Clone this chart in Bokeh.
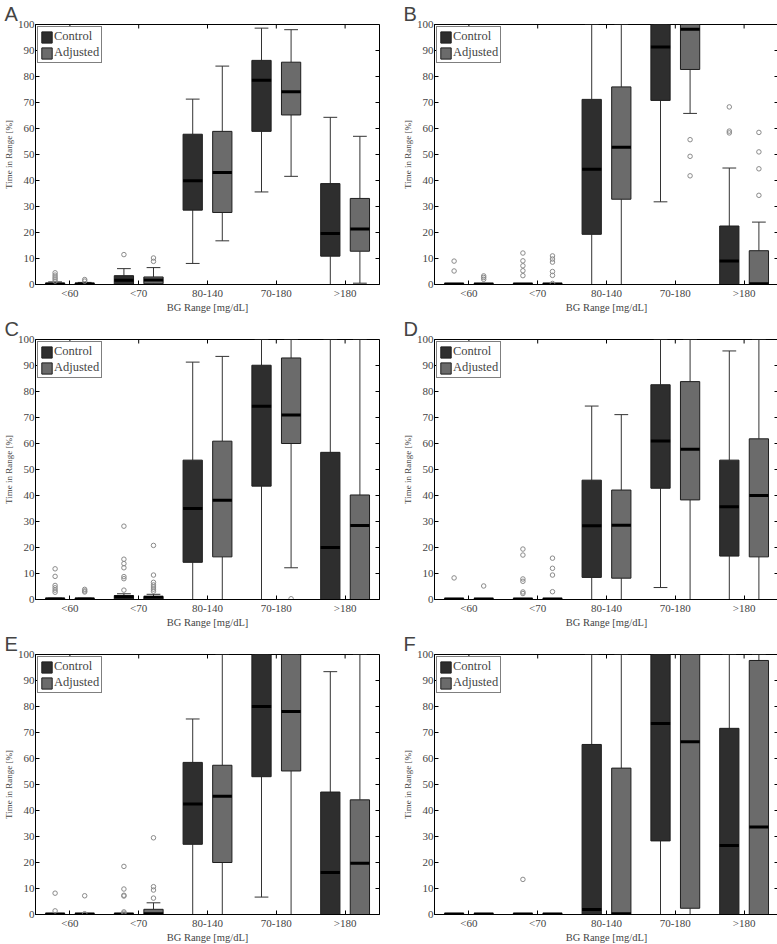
import math
from bokeh.plotting import figure
from bokeh.layouts import gridplot
from bokeh.models import (ColumnDataSource, FactorRange, Range1d, Legend, LegendItem, FixedTicker)
from bokeh.transform import dodge
from bokeh.embed import file_html
from bokeh.resources import INLINE

# ---------------- data ----------------
CATS = ["<60", "<70", "80-140", "70-180", ">180"]
GROUPS = ["Control", "Adjusted"]
Y_TICKS = [0, 10, 20, 30, 40, 50, 60, 70, 80, 90, 100]
X_LABEL = "BG Range [mg/dL]"
Y_LABEL = "Time in Range [%]"

# Panel A
A_ctrl_low = [0, 0, 8.1, 35.6, 0]
A_ctrl_q1 = [0, 0, 28.6, 58.9, 10.9]
A_ctrl_med = [0.2, 1.6, 39.9, 78.6, 19.6]
A_ctrl_q3 = [0.5, 3.4, 57.8, 86.2, 38.8]
A_ctrl_high = [1.0, 6.1, 71.3, 98.6, 64.3]
A_ctrl_out = [[1.3, 2.1, 2.8, 3.6, 4.5], [11.5], [], [], []]
A_adj_low = [0, 0, 16.8, 41.6, 0.5]
A_adj_q1 = [0, 0.3, 27.7, 65.2, 12.8]
A_adj_med = [0.2, 1.7, 43.1, 74.1, 21.3]
A_adj_q3 = [0.5, 2.9, 58.9, 85.5, 33.1]
A_adj_high = [0.8, 6.5, 84.0, 98.0, 57.0]
A_adj_out = [[1.3, 1.9], [8.9, 10.2], [], [], []]

# Panel B
B_ctrl_low = [0, 0, 0, 31.8, 0]
B_ctrl_q1 = [0, 0, 19.3, 70.8, 0]
B_ctrl_med = [0.2, 0.2, 44.3, 91.3, 9.0]
B_ctrl_q3 = [0.4, 0.4, 71.2, 100, 22.5]
B_ctrl_high = [0.4, 0.4, 100, 100, 44.8]
B_ctrl_out = [[5.2, 9.0], [3.4, 5.3, 7.2, 9.1, 12.1], [], [], [58.3, 59.0, 68.3]]
B_adj_low = [0, 0, 0, 65.8, 0]
B_adj_q1 = [0, 0, 32.8, 82.7, 0]
B_adj_med = [0.2, 0.2, 52.8, 98.2, 0.3]
B_adj_q3 = [0.4, 0.4, 76.0, 100, 13.0]
B_adj_high = [0.4, 0.4, 100, 100, 24.0]
B_adj_out = [[2.0, 2.7, 3.3], [0.4, 3.5, 5.0, 8.6, 9.8, 11.0], [], [41.8, 49.3, 55.7],
             [34.3, 44.5, 51.0, 58.5]]

# Panel C
C_ctrl_low = [0, 0, 0, 0, 0]
C_ctrl_q1 = [0, 0, 14.3, 43.6, 0]
C_ctrl_med = [0.2, 1.1, 35.0, 74.3, 20.0]
C_ctrl_q3 = [0.5, 1.5, 53.6, 90.1, 56.6]
C_ctrl_high = [0.5, 2.2, 91.3, 100, 100]
C_ctrl_out = [[2.8, 3.6, 4.5, 5.4, 8.9, 11.8], [3.6, 8.0, 8.8, 12.2, 13.8, 15.5, 28.2], [], [], []]
C_adj_low = [0, 0, 0, 12.2, 0]
C_adj_q1 = [0, 0, 16.4, 60.0, 0]
C_adj_med = [0.2, 0.9, 38.2, 71.0, 28.5]
C_adj_q3 = [0.5, 1.2, 60.9, 92.9, 40.2]
C_adj_high = [0.5, 2.0, 93.5, 100, 100]
C_adj_out = [[2.9, 3.3, 3.9], [3.2, 4.0, 4.8, 5.6, 6.6, 9.4, 20.8], [], [0.3], []]

# Panel D
D_ctrl_low = [0, 0, 0, 4.6, 0]
D_ctrl_q1 = [0, 0, 8.5, 42.8, 16.7]
D_ctrl_med = [0.2, 0.2, 28.4, 61.0, 35.7]
D_ctrl_q3 = [0.4, 0.4, 45.9, 82.6, 53.6]
D_ctrl_high = [0.4, 0.4, 74.4, 100, 95.6]
D_ctrl_out = [[8.3], [2.3, 2.9, 7.0, 7.9, 17.1, 19.4], [], [], []]
D_adj_low = [0, 0, 0, 0, 0]
D_adj_q1 = [0, 0, 8.2, 38.3, 16.4]
D_adj_med = [0.2, 0.2, 28.6, 57.8, 40.0]
D_adj_q3 = [0.4, 0.4, 42.1, 83.8, 61.8]
D_adj_high = [0.4, 0.4, 71.1, 100, 100]
D_adj_out = [[5.2], [3.0, 9.4, 12.0, 15.9], [], [], []]

# Panel E
E_ctrl_low = [0, 0, 0, 6.7, 0]
E_ctrl_q1 = [0, 0, 27.0, 53.0, 0]
E_ctrl_med = [0.2, 0.2, 42.5, 80.0, 16.2]
E_ctrl_q3 = [0.4, 0.4, 58.5, 100, 47.1]
E_ctrl_high = [0.4, 0.4, 75.2, 100, 93.4]
E_ctrl_out = [[1.4, 8.2], [0.5, 1.0, 7.1, 7.4, 9.8, 18.5], [], [], []]
E_adj_low = [0, 0, 0, 0, 0]
E_adj_q1 = [0, 0, 20.0, 55.2, 0]
E_adj_med = [0.2, 0.3, 45.5, 78.1, 19.7]
E_adj_q3 = [0.4, 2.0, 57.4, 100, 44.1]
E_adj_high = [0.4, 4.5, 100, 100, 100]
E_adj_out = [[0.3, 7.2], [6.3, 9.4, 10.7, 29.5], [], [], []]

# Panel F
F_ctrl_low = [0, 0, 0, 0, 0]
F_ctrl_q1 = [0, 0, 0, 28.3, 0]
F_ctrl_med = [0.2, 0.2, 1.9, 73.5, 26.5]
F_ctrl_q3 = [0.4, 0.4, 65.4, 100, 71.6]
F_ctrl_high = [0.4, 0.4, 100, 100, 100]
F_ctrl_out = [[], [13.5], [], [], []]
F_adj_low = [0, 0, 0, 0, 0]
F_adj_q1 = [0, 0, 0, 2.4, 0]
F_adj_med = [0.2, 0.2, 0.3, 66.4, 33.7]
F_adj_q3 = [0.4, 0.4, 56.3, 100, 97.7]
F_adj_high = [0.4, 0.4, 100, 100, 100]
F_adj_out = [[], [], [], [], []]

# ---------------- style ----------------
CTRL_FILL = "#2e2e2e"
ADJ_FILL = "#6b6b6b"
EDGE = "#1e1e1e"
WHISK = "#333333"
OUT_COL = "#8a8a8a"
SERIF = "Liberation Serif"
SANS = "Liberation Sans"
OFF = 0.215
BOX_W = 0.28
CAP_W = 0.2
FRAME_W = 344
FRAME_H = 260


def add_group(p, low, q1, med, q3, high, outs, offset, fill):
    src = ColumnDataSource(dict(cat=CATS, low=low, q1=q1, med=med, q3=q3, high=high))
    xc = dodge("cat", offset, range=p.x_range)
    xl = dodge("cat", offset - CAP_W / 2, range=p.x_range)
    xr = dodge("cat", offset + CAP_W / 2, range=p.x_range)
    bl = dodge("cat", offset - BOX_W / 2, range=p.x_range)
    br = dodge("cat", offset + BOX_W / 2, range=p.x_range)
    p.segment(x0=xc, y0="low", x1=xc, y1="q1", source=src, line_color=WHISK, line_width=1)
    p.segment(x0=xc, y0="q3", x1=xc, y1="high", source=src, line_color=WHISK, line_width=1)
    p.segment(x0=xl, y0="low", x1=xr, y1="low", source=src, line_color=WHISK, line_width=1)
    p.segment(x0=xl, y0="high", x1=xr, y1="high", source=src, line_color=WHISK, line_width=1)
    r = p.vbar(x=xc, width=BOX_W, bottom="q1", top="q3", source=src,
               fill_color=fill, line_color=EDGE, line_width=1)
    p.segment(x0=bl, y0="med", x1=br, y1="med", source=src, line_color="black", line_width=3)
    ox, oy = [], []
    for c, vals in zip(CATS, outs):
        for v in vals:
            ox.append(c)
            oy.append(v)
    osrc = ColumnDataSource(dict(cat=ox, y=oy))
    p.scatter(x=dodge("cat", offset, range=p.x_range), y="y", source=osrc, marker="circle",
              size=4.5, line_color=OUT_COL, fill_color=None, line_width=1)
    return r


def make_panel(letter, ctrl, adj, right_border):
    p = figure(x_range=FactorRange(factors=CATS, range_padding=0, factor_padding=0),
               y_range=Range1d(Y_TICKS[0], Y_TICKS[-1]), frame_width=FRAME_W, frame_height=FRAME_H,
               output_backend="svg", toolbar_location=None, title=letter,
               min_border_left=0, min_border_right=right_border,
               min_border_top=0, min_border_bottom=0)
    p.title.text_font = SANS
    p.title.text_font_size = "20px"
    p.title.text_font_style = "normal"
    p.title.align = "left"
    p.title.offset = -31
    p.title.standoff = 0
    p.xgrid.visible = False
    p.ygrid.visible = False
    p.outline_line_color = "black"
    p.outline_line_width = 1
    p.background_fill_color = "white"
    p.border_fill_color = "white"

    rc = add_group(p, *ctrl, -OFF, CTRL_FILL)
    ra = add_group(p, *adj, OFF, ADJ_FILL)

    # inward tick marks on the top and right edges (MATLAB box style)
    tsrc = ColumnDataSource(dict(cat=CATS, y=[Y_TICKS[-1]] * len(CATS)))
    p.scatter(x="cat", y="y", source=tsrc, marker="dash", angle=math.pi / 2, size=8,
              line_color="black", line_width=1)
    rsrc = ColumnDataSource(dict(cat=[CATS[-1]] * len(Y_TICKS), y=Y_TICKS))
    p.scatter(x=dodge("cat", 0.5, range=p.x_range), y="y", source=rsrc, marker="dash", size=8,
              line_color="black", line_width=1)

    for ax in p.xaxis:
        ax.axis_label = X_LABEL
        ax.axis_label_text_font = SERIF
        ax.axis_label_text_font_size = "10.5px"
        ax.axis_label_text_font_style = "normal"
        ax.axis_label_standoff = 0
        ax.major_label_text_font = SERIF
        ax.major_label_text_font_size = "11px"
        ax.major_label_standoff = 2
        ax.major_tick_in = 4
        ax.major_tick_out = 0
        ax.axis_line_color = "black"
        ax.major_tick_line_color = "black"
    for ax in p.yaxis:
        ax.axis_label = Y_LABEL
        ax.axis_label_text_font = SERIF
        ax.axis_label_text_font_size = "9px"
        ax.axis_label_text_font_style = "normal"
        ax.axis_label_standoff = 1
        ax.major_label_text_font = SERIF
        ax.major_label_text_font_size = "11px"
        ax.major_label_standoff = 1
        ax.ticker = FixedTicker(ticks=Y_TICKS)
        ax.major_tick_in = 4
        ax.major_tick_out = 0
        ax.minor_tick_in = 0
        ax.minor_tick_out = 0
        ax.axis_line_color = "black"
        ax.major_tick_line_color = "black"

    legend = Legend(items=[LegendItem(label=GROUPS[0], renderers=[rc]),
                           LegendItem(label=GROUPS[1], renderers=[ra])],
                    location="top_left", margin=2, padding=2, spacing=1,
                    glyph_width=13, glyph_height=14, label_height=14,
                    label_standoff=1, label_text_font=SERIF, label_text_font_size="12.5px",
                    border_line_color="black", border_line_width=1,
                    background_fill_alpha=1)
    p.add_layout(legend, "center")
    return p


pA = make_panel("A", (A_ctrl_low, A_ctrl_q1, A_ctrl_med, A_ctrl_q3, A_ctrl_high, A_ctrl_out),
                (A_adj_low, A_adj_q1, A_adj_med, A_adj_q3, A_adj_high, A_adj_out), 20)
pB = make_panel("B", (B_ctrl_low, B_ctrl_q1, B_ctrl_med, B_ctrl_q3, B_ctrl_high, B_ctrl_out),
                (B_adj_low, B_adj_q1, B_adj_med, B_adj_q3, B_adj_high, B_adj_out), 2)
pC = make_panel("C", (C_ctrl_low, C_ctrl_q1, C_ctrl_med, C_ctrl_q3, C_ctrl_high, C_ctrl_out),
                (C_adj_low, C_adj_q1, C_adj_med, C_adj_q3, C_adj_high, C_adj_out), 20)
pD = make_panel("D", (D_ctrl_low, D_ctrl_q1, D_ctrl_med, D_ctrl_q3, D_ctrl_high, D_ctrl_out),
                (D_adj_low, D_adj_q1, D_adj_med, D_adj_q3, D_adj_high, D_adj_out), 2)
pE = make_panel("E", (E_ctrl_low, E_ctrl_q1, E_ctrl_med, E_ctrl_q3, E_ctrl_high, E_ctrl_out),
                (E_adj_low, E_adj_q1, E_adj_med, E_adj_q3, E_adj_high, E_adj_out), 20)
pF = make_panel("F", (F_ctrl_low, F_ctrl_q1, F_ctrl_med, F_ctrl_q3, F_ctrl_high, F_ctrl_out),
                (F_adj_low, F_adj_q1, F_adj_med, F_adj_q3, F_adj_high, F_adj_out), 2)

grid = gridplot([[pA, pB], [pC, pD], [pE, pF]], toolbar_location=None)

open("out.html", "w").write(file_html(grid, INLINE))
